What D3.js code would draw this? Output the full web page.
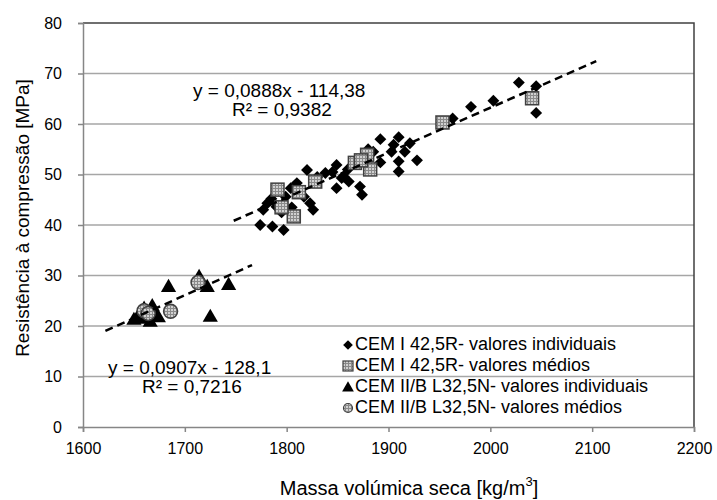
<!DOCTYPE html>
<html>
<head>
<meta charset="utf-8">
<script src="https://cdn.jsdelivr.net/npm/d3@7"></script>
<style>
  body { margin: 0; background: #fff; }
  svg text { font-family: "Liberation Sans", Arial, sans-serif; fill: #000; }
</style>
</head>
<body>
<div id="chart"></div>
<script>
// chart data
var cemIInd = [
  [2028, 68.2], [2045, 67.5], [2045, 62.2], [2003, 64.6], [1981, 63.4],
  [1963, 61.1], [1892, 57.0], [1910, 57.4], [1921, 56.2], [1905, 55.9],
  [1885, 54.5], [1903, 54.5], [1916, 54.5], [1928, 52.8], [1910, 52.6],
  [1892, 52.4], [1910, 50.6], [1872, 47.6], [1874, 46.0], [1856, 49.6],
  [1861, 48.6], [1820, 50.9], [1838, 50.3], [1849, 51.9], [1854, 49.3],
  [1849, 47.3], [1810, 48.3], [1804, 47.3], [1799, 45.6], [1817, 45.6],
  [1823, 44.3], [1826, 43.0], [1781, 44.3], [1777, 43.0], [1790, 43.6],
  [1774, 40.0], [1786, 39.7], [1797, 39.0], [1785, 45.2], [1795, 42.5],
  [1805, 43.5], [1812, 46.5], [1830, 49.5], [1845, 50.5], [1860, 51.0],
  [1876, 53.2], [1880, 55.0]
];
var cemIMed = [
  [2041, 65.1], [1953, 60.3], [1879, 53.9], [1882, 51.0], [1867, 52.3],
  [1873, 52.8], [1828, 48.6], [1791, 47.0], [1807, 41.7], [1795, 43.5],
  [1812, 46.5]
];
var cemIIInd = [
  [1684, 27.8], [1714, 29.8], [1722, 27.8], [1743, 28.2], [1725, 21.9],
  [1666, 20.9], [1650, 21.3], [1655, 22.3], [1660, 23.5], [1663, 22.0],
  [1670, 22.8], [1674, 21.8], [1658, 21.5], [1668, 24.0]
];
var cemIIMed = [[1686, 22.9], [1713, 28.6], [1660, 23.0], [1664, 22.5]];

// trend lines: slope, intercept, x range
var trend1 = { a: 0.0888, b: -114.38, x0: 1748, x1: 2104 };
var trend2 = { a: 0.0907, b: -128.1, x0: 1622, x1: 1766 };

var legendLabels = [
  "CEM I 42,5R- valores individuais",
  "CEM I 42,5R- valores médios",
  "CEM II/B L32,5N- valores individuais",
  "CEM II/B L32,5N- valores médios"
];
var xTicks = [1600, 1700, 1800, 1900, 2000, 2100, 2200];
var yTicks = [0, 10, 20, 30, 40, 50, 60, 70, 80];

var width = 717, height = 500;
var margin = { top: 23, right: 23, bottom: 73, left: 83 };
var chartWidth = width - margin.left - margin.right;
var chartHeight = height - margin.top - margin.bottom;

var svg = d3.select("#chart").append("svg")
    .attr("width", width)
    .attr("height", height);

// hatched fill for the "médios" markers
var defs = svg.append("defs");
var pat = defs.append("pattern")
    .attr("id", "hatch")
    .attr("patternUnits", "userSpaceOnUse")
    .attr("width", 3).attr("height", 3);
pat.append("rect").attr("width", 3).attr("height", 3).attr("fill", "#d0d0d0");
pat.append("path").attr("d", "M0,0.5H3M0.5,0V3").attr("stroke", "#8a8a8a").attr("stroke-width", 1);

var chartGroup = svg.append("g")
    .attr("transform", `translate(${margin.left}, ${margin.top})`);

var x = d3.scaleLinear().domain([1600, 2200]).range([0, chartWidth]);
var y = d3.scaleLinear().domain([0, 80]).range([chartHeight, 0]);

// gridlines
chartGroup.selectAll(".grid")
    .data(yTicks.filter(d => d > 0 && d < 80))
    .enter().append("line")
    .attr("x1", 0).attr("x2", chartWidth)
    .attr("y1", d => y(d)).attr("y2", d => y(d))
    .attr("stroke", "#a6a6a6").attr("stroke-width", 1.5);

// top and right border
chartGroup.append("path")
    .attr("d", `M0,${y(80)}H${chartWidth}V${chartHeight}`)
    .attr("fill", "none").attr("stroke", "#404040").attr("stroke-width", 1.5);

// axes
var xAxis = d3.axisBottom(x).tickValues(xTicks).tickSize(5).tickPadding(11).tickFormat(d3.format("d"));
var yAxis = d3.axisLeft(y).tickValues(yTicks).tickSize(5).tickPadding(16);

var gx = chartGroup.append("g")
    .attr("transform", `translate(0, ${chartHeight})`)
    .call(xAxis);
var gy = chartGroup.append("g").call(yAxis);

[gx, gy].forEach(function(g) {
  g.select(".domain").attr("stroke", "#868686").attr("stroke-width", 1.5);
  g.selectAll(".tick line").attr("stroke", "#868686").attr("stroke-width", 1.5);
  g.selectAll("text").style("font-size", "16px")
      .style("font-family", "'Liberation Sans', Arial, sans-serif").attr("fill", "#000");
});

// marker shapes
var diamond = d3.symbol().type(d3.symbolDiamond2).size(90);
var triangle = d3.symbol().type(d3.symbolTriangle).size(100);

function drawDiamonds(g, data) {
  g.selectAll(null).data(data).enter().append("path")
    .attr("d", diamond)
    .attr("transform", d => `translate(${x(d[0])},${y(d[1])})`)
    .attr("fill", "#000");
}
function drawSquares(g, data) {
  g.selectAll(null).data(data).enter().append("rect")
    .attr("x", d => x(d[0]) - 6.5).attr("y", d => y(d[1]) - 6.5)
    .attr("width", 13).attr("height", 13)
    .attr("fill", "url(#hatch)").attr("stroke", "#404040").attr("stroke-width", 1.5);
}
function drawTriangles(g, data) {
  g.selectAll(null).data(data).enter().append("path")
    .attr("d", triangle)
    .attr("transform", d => `translate(${x(d[0])},${y(d[1]) + 1})`)
    .attr("fill", "#000");
}
function drawCircles(g, data) {
  g.selectAll(null).data(data).enter().append("circle")
    .attr("cx", d => x(d[0])).attr("cy", d => y(d[1]))
    .attr("r", 7)
    .attr("fill", "url(#hatch)").attr("stroke", "#404040").attr("stroke-width", 1.5);
}

var marks = chartGroup.append("g");
drawDiamonds(marks, cemIInd);
drawSquares(marks, cemIMed);
drawTriangles(marks, cemIIInd);
drawCircles(marks, cemIIMed);

// trend lines
[trend1, trend2].forEach(function(t) {
  chartGroup.append("line")
    .attr("x1", x(t.x0)).attr("y1", y(t.a * t.x0 + t.b))
    .attr("x2", x(t.x1)).attr("y2", y(t.a * t.x1 + t.b))
    .attr("stroke", "#000").attr("stroke-width", 2.5)
    .attr("stroke-dasharray", "8,5");
});

// equations
function eqText(px, py, txt) {
  svg.append("text").attr("x", px).attr("y", py)
    .attr("dominant-baseline", "middle")
    .style("font-size", "19px").text(txt);
}
eqText(193, 92, "y = 0,0888x - 114,38");
eqText(232, 111, "R² = 0,9382");
eqText(108, 369, "y = 0,0907x - 128,1");
eqText(142, 388, "R² = 0,7216");

// legend (no background, gridlines show through)
var legend = svg.append("g").attr("transform", "translate(348, 345)");
var rowH = 21;
var lDiamond = d3.symbol().type(d3.symbolDiamond2).size(60);
var lTriangle = d3.symbol().type(d3.symbolTriangle).size(60);
drawLegendMarker(0, function(g) {
  g.append("path").attr("d", lDiamond).attr("fill", "#000");
});
drawLegendMarker(1, function(g) {
  g.append("rect").attr("x", -5).attr("y", -5).attr("width", 10).attr("height", 10)
    .attr("fill", "url(#hatch)").attr("stroke", "#404040").attr("stroke-width", 1.2);
});
drawLegendMarker(2, function(g) {
  g.append("path").attr("d", lTriangle).attr("transform", "translate(0,1)").attr("fill", "#000");
});
drawLegendMarker(3, function(g) {
  g.append("circle").attr("r", 4.5)
    .attr("fill", "url(#hatch)").attr("stroke", "#404040").attr("stroke-width", 1.2);
});
function drawLegendMarker(i, fn) {
  var g = legend.append("g").attr("transform", `translate(0, ${i * rowH})`);
  fn(g);
  g.append("text").attr("x", 7).attr("y", 0)
    .attr("dominant-baseline", "middle")
    .style("font-size", "18px").text(legendLabels[i]);
}

// axis titles
svg.append("text")
    .attr("transform", "translate(24, 218) rotate(-90)")
    .attr("text-anchor", "middle").attr("dominant-baseline", "middle")
    .style("font-size", "19px")
    .text("Resistência à compressão [MPa]");

var xt = svg.append("text")
    .attr("x", 409).attr("y", 490)
    .attr("text-anchor", "middle").attr("dominant-baseline", "middle")
    .style("font-size", "20px");
xt.append("tspan").text("Massa volúmica seca [kg/m");
xt.append("tspan").attr("baseline-shift", "super").style("font-size", "13px").text("3");
xt.append("tspan").text("]");
</script>
</body>
</html>
